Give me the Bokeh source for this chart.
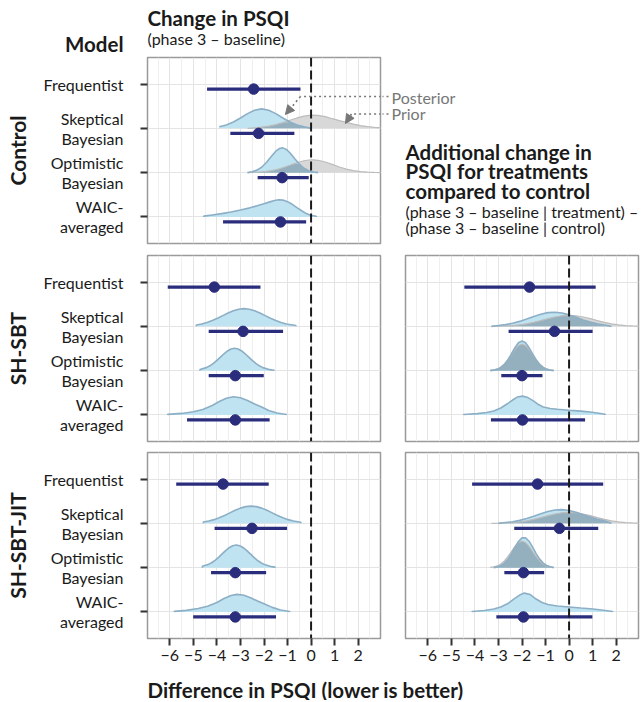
import numpy as np
from bokeh.plotting import figure
from bokeh.layouts import column, row
from bokeh.models import Range1d, FixedTicker, Span, Label, Arrow, NormalHead
from bokeh.embed import file_html
from bokeh.resources import INLINE

FONT = "Lato"

# ---------------- data ----------------
row_names = {4: "Frequentist", 3: "Skeptical\nBayesian", 2: "Optimistic\nBayesian", 1: "WAIC-\naveraged"}
row_y = [4, 3, 2, 1]          # Frequentist, Skeptical, Optimistic, WAIC
x_ticks = [-6, -5, -4, -3, -2, -1, 0, 1, 2]
x_minor = [-6.5, -5.5, -4.5, -3.5, -2.5, -1.5, -0.5, 0.5, 1.5, 2.5]

# point estimates and intervals (order: Frequentist, Skeptical, Optimistic, WAIC)
ctrl_est = [-2.44, -2.23, -1.23, -1.30]
ctrl_lo = [-4.42, -3.43, -2.27, -3.74]
ctrl_hi = [-0.45, -0.71, -0.10, -0.21]
sbt_est = [-4.11, -2.89, -3.22, -3.22]
sbt_lo = [-6.09, -4.35, -4.35, -5.27]
sbt_hi = [-2.15, -1.19, -2.01, -1.76]
jit_est = [-3.74, -2.51, -3.22, -3.22]
jit_lo = [-5.73, -4.10, -4.25, -5.01]
jit_hi = [-1.80, -1.02, -1.91, -1.49]
sbt_diff_est = [-1.68, -0.62, -2.00, -1.98]
sbt_diff_lo = [-4.45, -2.57, -2.88, -3.32]
sbt_diff_hi = [1.13, 1.00, -1.13, 0.68]
jit_diff_est = [-1.34, -0.41, -1.94, -1.94]
jit_diff_lo = [-4.12, -2.33, -2.75, -3.09]
jit_diff_hi = [1.45, 1.24, -1.06, 0.99]

# ---- densities (heights in row units) ----
ctrl_sk_x = [-3.9, -3.6, -3.3, -3.0, -2.7, -2.4, -2.1, -1.8, -1.5, -1.2, -0.9, -0.6, -0.3, 0.0,
             0.3, 0.6, 0.9, 1.2, 1.5, 1.8, 2.1, 2.4, 2.7, 3.0]
ctrl_sk_post = [.035, .076, .143, .234, .332, .410, .44, .410, .332, .234, .143, .076, .035, 0,
                0, 0, 0, 0, 0, 0, 0, 0, 0, 0]
ctrl_sk_prior = [0, 0, 0, 0, 0, .013, .027, .049, .083, .129, .182, .235, .277, .299,
                 .294, .265, .218, .175, .135, .095, .062, .038, .022, .012]
ctrl_op_x = [-2.7, -2.5, -2.3, -2.1, -1.9, -1.7, -1.5, -1.35, -1.2, -1.05, -0.9, -0.7, -0.5, -0.3,
             -0.1, 0.1, 0.3, 0.6, 0.9, 1.2, 1.5, 1.8, 2.1, 2.4, 2.7, 3.0]
ctrl_op_post = [0, .022, .057, .123, .228, .360, .484, .544, .559, .525, .450, .319, .193, .099,
                .044, .016, 0, 0, 0, 0, 0, 0, 0, 0, 0, 0]
ctrl_op_prior = [0, .005, .010, .017, .028, .044, .066, .086, .110, .138, .166, .205, .241, .269,
                 .286, .29, .279, .241, .186, .128, .079, .044, .022, .010, .004, .001]
ctrl_wa_x = [-4.56, -4.2, -3.8, -3.4, -3.0, -2.6, -2.3, -2.0, -1.75, -1.55, -1.38, -1.2, -1.0,
             -0.8, -0.6, -0.4, -0.2, 0.0, 0.22]
ctrl_wa_h = [.018, .045, .075, .11, .155, .205, .25, .30, .34, .372, .387, .38, .345,
             .285, .21, .14, .075, .035, .015]

sbt_sk_x = [-4.875, -4.65, -4.425, -4.2, -3.975, -3.75, -3.525, -3.3, -3.075, -2.85, -2.625, -2.4,
            -2.175, -1.95, -1.725, -1.5, -1.275, -1.05, -0.645]
sbt_sk_h = [.032, .054, .087, .13, .183, .243, .302, .353, .388, .40, .388, .353,
            .302, .243, .183, .13, .087, .054, .02]
sbt_op_x = [-4.72, -4.45, -4.3, -4.15, -4.0, -3.85, -3.70, -3.55, -3.40, -3.25, -3.10, -2.95,
            -2.80, -2.65, -2.5, -2.35, -2.2, -2.05, -1.75, -1.57]
sbt_op_h = [.025, .068, .109, .164, .231, .307, .381, .445, .489, .505, .489, .445,
            .381, .307, .231, .164, .109, .068, .022, .010]
sbt_wa_x = [-6.09, -5.5, -5.0, -4.6, -4.2, -3.9, -3.6, -3.3, -3.0, -2.7, -2.4, -2.1, -1.8, -1.45, -1.05]
sbt_wa_h = [.013, .034, .072, .123, .213, .302, .376, .41, .387, .324, .246, .179, .10, .045, .011]

jit_sk_x = [-4.575, -4.35, -4.125, -3.9, -3.675, -3.45, -3.225, -3.0, -2.775, -2.55, -2.325, -2.1,
            -1.875, -1.65, -1.425, -1.2, -0.975, -0.75, -0.435]
jit_sk_h = [.031, .053, .084, .127, .179, .237, .294, .344, .378, .39, .378, .344,
            .294, .237, .179, .127, .084, .053, .025]
jit_op_x = [-4.62, -4.38, -4.23, -4.08, -3.93, -3.78, -3.63, -3.48, -3.33, -3.18, -3.03, -2.88,
            -2.73, -2.58, -2.43, -2.28, -2.13, -1.98, -1.68, -1.53]
jit_op_h = [.029, .069, .110, .166, .233, .31, .385, .45, .494, .51, .494, .45,
            .385, .31, .233, .166, .110, .069, .022, .012]
jit_wa_x = [-5.81, -5.3, -4.8, -4.4, -4.0, -3.7, -3.4, -3.15, -2.85, -2.55, -2.25, -1.95, -1.65, -1.3, -0.91]
jit_wa_h = [.013, .036, .076, .13, .213, .302, .369, .396, .376, .313, .242, .174, .103, .045, .011]

dsk_x = [-3.3, -3.0, -2.7, -2.4, -2.1, -1.8, -1.5, -1.2, -0.9, -0.6, -0.3, 0.0, 0.3, 0.6,
         0.9, 1.2, 1.5, 1.8, 2.1, 2.4, 2.7, 3.0]
dsk_prior = [0, .004, .009, .018, .034, .058, .090, .130, .173, .212, .240, .25, .240, .212,
             .173, .130, .090, .058, .034, .018, .009, .004]
sbt_dsk_post = [0, .020, .039, .069, .112, .165, .223, .275, .310, .320, .301, .259, .204, .146,
                .096, .058, .032, 0, 0, 0, 0, 0]
jit_dsk_post = [0, 0, .020, .038, .067, .108, .160, .216, .267, .300, .310, .292, .251, .197,
                .142, .093, .056, 0, 0, 0, 0, 0]
dop_x = [-3.35, -3.2, -3.05, -2.9, -2.75, -2.6, -2.45, -2.3, -2.15, -2.0, -1.85, -1.7, -1.55,
         -1.4, -1.25, -1.1, -0.95, -0.8, -0.65]
dop_prior = [.007, .017, .039, .081, .150, .247, .364, .480, .568, .60, .568, .480, .364,
             .247, .150, .081, .039, .017, .007]
sbt_dop_post = [0, .011, .029, .067, .136, .241, .377, .519, .628, .67, .628, .519, .377,
                .241, .136, .067, .029, .011, 0]
jit_dop_post = [0, 0, .018, .045, .097, .185, .309, .455, .590, .673, .676, .597, .465,
                .318, .192, .102, .048, .020, 0]
sbt_dwa_x = [-4.48, -3.9, -3.5, -3.2, -2.9, -2.64, -2.4, -2.2, -1.98, -1.75, -1.5, -1.3, -1.1,
             -0.8, -0.5, 0.0, 0.5, 0.9, 1.2, 1.53]
sbt_dwa_h = [.011, .029, .056, .089, .157, .246, .336, .403, .425, .392, .313, .235, .179,
             .145, .128, .105, .085, .067, .045, .016]
jit_dwa_x = [-4.12, -3.6, -3.2, -2.9, -2.6, -2.35, -2.1, -1.9, -1.65, -1.4, -1.15, -0.9, -0.5,
             0.0, 0.5, 0.9, 1.3, 1.85]
jit_dwa_h = [.011, .034, .067, .112, .19, .291, .38, .425, .392, .291, .213, .168, .134,
             .112, .089, .072, .049, .011]

# ---------------- styles ----------------
NAVY = "#2a2c7c"
POST_FILL = "#bfe3f1"
POST_LINE = "#8cafc6"
PRIOR_FILL = "#d8d8d8"
PRIOR_LINE = "#bcbcbc"
BOTH_FILL = "#94afbd"
GRID = "#e4e4e4"
GRID_MINOR = "#efefef"
TEXT = "#1a1a1a"
ANNO = "#777777"
PAD = 0.113   # offset of the point interval below the slab baseline
TITLE_SIZE = "20.5px"
SUB_SIZE = "16px"

XR = Range1d(-6.95, 2.95)


def no_align(p):
    if "frame_align" in p.properties():
        p.frame_align = False


def base_fig(w, h, bl, br, bt, bb, show_y, show_x):
    p = figure(width=w, height=h, x_range=XR, y_range=Range1d(0.4, 4.6),
               output_backend="svg", toolbar_location=None,
               min_border_left=bl, min_border_right=br,
               min_border_top=bt, min_border_bottom=bb)
    p.outline_line_color = "#9a9a9a"
    p.outline_line_width = 1.5
    p.xgrid.ticker = FixedTicker(ticks=x_ticks, minor_ticks=x_minor)
    p.xgrid.grid_line_color = GRID
    p.xgrid.minor_grid_line_color = GRID_MINOR
    p.ygrid.ticker = FixedTicker(ticks=row_y)
    p.ygrid.grid_line_color = GRID
    xa = p.xaxis[0]
    ya = p.yaxis[0]
    xa.ticker = FixedTicker(ticks=x_ticks)
    ya.ticker = FixedTicker(ticks=row_y)
    for ax in (xa, ya):
        ax.axis_line_color = None
        ax.major_tick_line_color = "#333333"
        ax.major_tick_line_width = 2
        ax.major_tick_out = 7
        ax.major_tick_in = 0
        ax.minor_tick_line_color = None
        ax.major_label_text_font = FONT
        ax.major_label_text_font_size = "16px"
        ax.major_label_text_color = TEXT
    xa.major_label_standoff = 4
    ya.major_label_standoff = 17
    ya.major_label_text_line_height = 1.05
    ya.major_label_overrides = dict(row_names)
    xa.visible = show_x
    ya.visible = show_y
    return p


def text_fig(w, h, x0, x1, ytop, ybot, bt=0, bb=0):
    # a canvas whose data coordinates are page pixels (y grows downward)
    p = figure(width=w, height=h, x_range=Range1d(x0, x1), y_range=Range1d(ybot, ytop),
               output_backend="svg", toolbar_location=None,
               min_border_left=0, min_border_right=0, min_border_top=bt, min_border_bottom=bb,
               x_axis_location=None, y_axis_location=None)
    p.outline_line_color = None
    p.grid.visible = False
    no_align(p)
    return p


def lab(p, x, y, text, size, bold=False, align="left", color=TEXT, angle=0.0, baseline="middle"):
    p.add_layout(Label(x=x, y=y, text=text, text_align=align, text_baseline=baseline, angle=angle,
                       text_font=FONT, text_font_style="bold" if bold else "normal",
                       text_font_size=size, text_color=color))


def line_part(xs, hs, y0):
    nz = np.nonzero(hs)[0]
    a = max(nz[0] - 1, 0)
    b = min(nz[-1] + 1, len(hs) - 1)
    return xs[a:b + 1], y0 + hs[a:b + 1]


def slab(p, y0, xs, hs):
    xs = np.asarray(xs, float)
    hs = np.asarray(hs, float)
    p.varea(x=xs, y1=y0, y2=y0 + hs, fill_color=POST_FILL)
    lx = np.concatenate([[xs[0]], xs, [xs[-1]]])
    ly = np.concatenate([[y0], y0 + hs, [y0]])
    p.line(lx, ly, line_color=POST_LINE, line_width=1.6)


def slab_with_prior(p, y0, xs, post, prior):
    xs = np.asarray(xs, float)
    post = np.asarray(post, float)
    prior = np.asarray(prior, float)
    both = np.minimum(post, prior)
    p.varea(x=xs, y1=y0, y2=y0 + prior, fill_color=PRIOR_FILL)
    p.varea(x=xs, y1=y0, y2=y0 + post, fill_color=POST_FILL)
    p.varea(x=xs, y1=y0, y2=y0 + both, fill_color=BOTH_FILL)
    px, py = line_part(xs, prior, y0)
    p.line(px, py, line_color=PRIOR_LINE, line_width=1.2)
    qx, qy = line_part(xs, post, y0)
    p.line(qx, qy, line_color=POST_LINE, line_width=1.6)


def intervals(p, est, lo, hi):
    ys = [y - PAD for y in row_y]
    p.segment(x0=lo, x1=hi, y0=ys, y1=ys, line_color=NAVY, line_width=3.2)
    p.scatter(x=est, y=ys, size=10.5, fill_color=NAVY, line_color=NAVY)


def zero_line(p):
    p.add_layout(Span(location=0, dimension="height", line_color="#1a1a1a",
                      line_width=2, line_dash="9 4"))


# ---------------- header ----------------
pH = text_fig(642, 56, 0, 642, 0, 56)
lab(pH, 147, 17.5, "Change in PSQI", TITLE_SIZE, bold=True)
lab(pH, 147, 37.5, "(phase 3 \u2013 baseline)", SUB_SIZE)
lab(pH, 123, 55, "Model", TITLE_SIZE, bold=True, align="right", baseline="bottom")

# ---------------- Control row ----------------
pL1 = text_fig(36, 193, 0, 36, 57, 243, bt=1, bb=6)
lab(pL1, 17, 150, "Control", "21px", bold=True, align="center", angle=np.pi / 2)

pA = base_fig(346, 193, 111, 2, 1, 6, True, False)
slab_with_prior(pA, 3, ctrl_sk_x, ctrl_sk_post, ctrl_sk_prior)
slab_with_prior(pA, 2, ctrl_op_x, ctrl_op_post, ctrl_op_prior)
slab(pA, 1, ctrl_wa_x, ctrl_wa_h)
zero_line(pA)
intervals(pA, ctrl_est, ctrl_lo, ctrl_hi)
pA.add_layout(Arrow(x_start=3.4, y_start=3.719, x_end=-0.45, y_end=3.719, end=None,
                    line_color=ANNO, line_width=1.6, line_dash="2 3"))
pA.add_layout(Arrow(x_start=-0.45, y_start=3.719, x_end=-1.09, y_end=3.313,
                    end=NormalHead(size=9, fill_color=ANNO, line_color=ANNO),
                    line_color=ANNO, line_width=1.6, line_dash="2 3"))
pA.add_layout(Arrow(x_start=3.4, y_start=3.324, x_end=1.717, y_end=3.324, end=None,
                    line_color=ANNO, line_width=1.6, line_dash="2 3"))
pA.add_layout(Arrow(x_start=1.717, y_start=3.324, x_end=1.462, y_end=3.11,
                    end=NormalHead(size=9, fill_color=ANNO, line_color=ANNO),
                    line_color=ANNO, line_width=1.6, line_dash="2 3"))

pB = text_fig(260, 193, 382, 642, 57, 243, bt=1, bb=6)
pB.segment(x0=[381, 381], x1=[389, 389], y0=[96, 113.5], y1=[96, 113.5],
           line_color=ANNO, line_width=1.6, line_dash="2 3")
lab(pB, 391, 96.7, "Posterior", "16px", color=ANNO)
lab(pB, 391, 113.3, "Prior", "16px", color=ANNO)
lab(pB, 405, 151.7, "Additional change in", TITLE_SIZE, bold=True)
lab(pB, 405, 170.7, "PSQI for treatments", TITLE_SIZE, bold=True)
lab(pB, 405, 190, "compared to control", TITLE_SIZE, bold=True)
lab(pB, 405, 210.7, "(phase 3 \u2013 baseline | treatment) \u2013", SUB_SIZE)
lab(pB, 405, 226.7, "(phase 3 \u2013 baseline | control)", SUB_SIZE)

# ---------------- SH-SBT row ----------------
pL2 = text_fig(36, 198, 0, 36, 255, 441, bt=6, bb=6)
lab(pL2, 17, 348, "SH-SBT", "21px", bold=True, align="center", angle=np.pi / 2)

pC = base_fig(356, 198, 111, 12, 6, 6, True, False)
slab(pC, 3, sbt_sk_x, sbt_sk_h)
slab(pC, 2, sbt_op_x, sbt_op_h)
slab(pC, 1, sbt_wa_x, sbt_wa_h)
zero_line(pC)
intervals(pC, sbt_est, sbt_lo, sbt_hi)

pD = base_fig(250, 198, 13, 4, 6, 6, False, False)
slab_with_prior(pD, 3, dsk_x, sbt_dsk_post, dsk_prior)
slab_with_prior(pD, 2, dop_x, sbt_dop_post, dop_prior)
slab(pD, 1, sbt_dwa_x, sbt_dwa_h)
zero_line(pD)
intervals(pD, sbt_diff_est, sbt_diff_lo, sbt_diff_hi)

# ---------------- SH-SBT-JIT row ----------------
pL3 = text_fig(36, 225, 0, 36, 452, 638, bt=5, bb=34)
lab(pL3, 17, 545, "SH-SBT-JIT", "21px", bold=True, align="center", angle=np.pi / 2)

pE = base_fig(356, 225, 111, 12, 5, 34, True, True)
slab(pE, 3, jit_sk_x, jit_sk_h)
slab(pE, 2, jit_op_x, jit_op_h)
slab(pE, 1, jit_wa_x, jit_wa_h)
zero_line(pE)
intervals(pE, jit_est, jit_lo, jit_hi)

pF = base_fig(250, 225, 13, 4, 5, 34, False, True)
slab_with_prior(pF, 3, dsk_x, jit_dsk_post, dsk_prior)
slab_with_prior(pF, 2, dop_x, jit_dop_post, dop_prior)
slab(pF, 1, jit_dwa_x, jit_dwa_h)
zero_line(pF)
intervals(pF, jit_diff_est, jit_diff_lo, jit_diff_hi)

# ---------------- footer ----------------
pX = text_fig(642, 28, 0, 642, 672, 700)
lab(pX, 147, 689, "Difference in PSQI (lower is better)", TITLE_SIZE, bold=True)

layout = column(pH, row(pL1, pA, pB), row(pL2, pC, pD), row(pL3, pE, pF), pX)

open("out.html", "w").write(file_html(layout, INLINE))
